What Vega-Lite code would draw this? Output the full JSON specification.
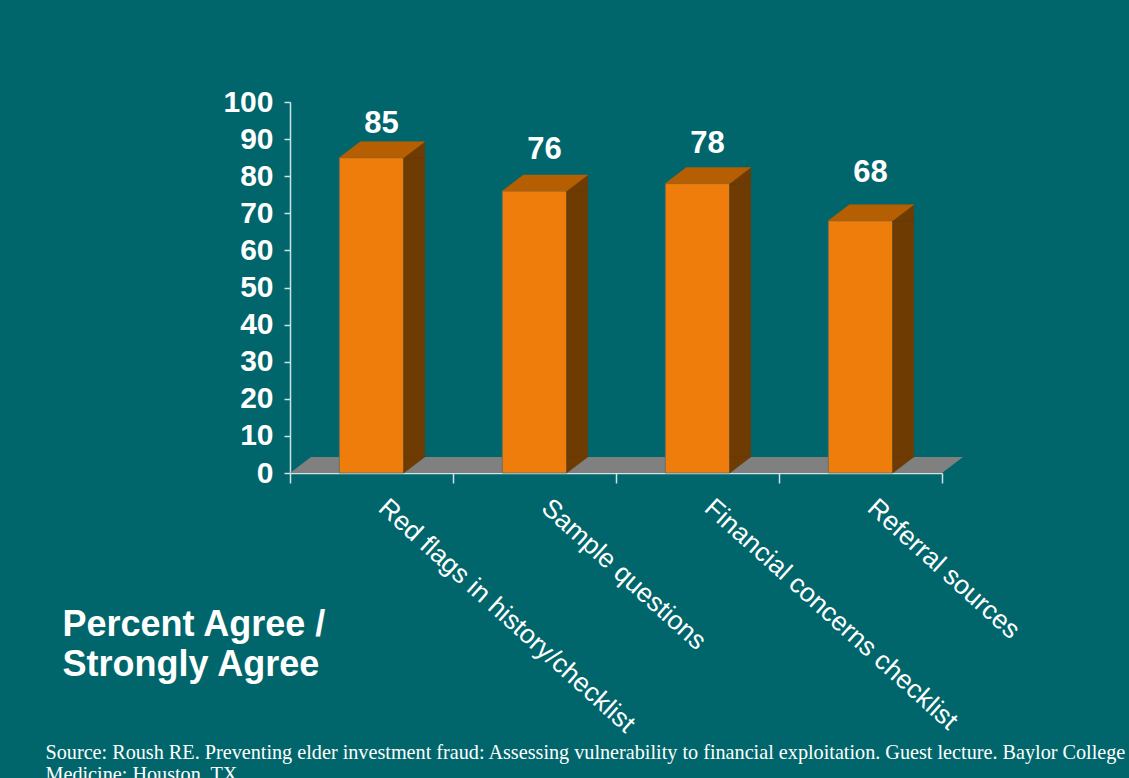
{
  "$schema": "https://vega.github.io/schema/vega-lite/v6.json",
  "width": 652,
  "height": 371,
  "autosize": {"type": "none"},
  "padding": {"left": 290, "top": 102, "right": 187, "bottom": 305},
  "background": "#00666B",
  "config": {"view": {"stroke": null}, "font": "Liberation Sans"},
  "data": {
    "values": [
      {"category": "Red flags in history/checklist", "value": 85},
      {"category": "Sample questions", "value": 76},
      {"category": "Financial concerns checklist", "value": 78},
      {"category": "Referral sources", "value": 68}
    ]
  },
  "encoding": {
    "x": {
      "field": "category",
      "type": "nominal",
      "sort": null,
      "scale": {"paddingInner": 0, "paddingOuter": 0},
      "axis": {
        "title": ["Source: Roush RE. Preventing elder investment fraud: Assessing vulnerability to financial exploitation. Guest lecture. Baylor College", "Medicine; Houston, TX."],
        "titleX": -245,
        "titleY": 285,
        "titleAlign": "left",
        "titleBaseline": "alphabetic",
        "titleFont": "Liberation Serif",
        "titleFontSize": 20.2,
        "titleFontWeight": "normal",
        "titleColor": "white",
        "titleLineHeight": 22,
        "labelAngle": 42,
        "labelAlign": "left",
        "labelBaseline": "top",
        "labelFontSize": 26.5,
        "labelColor": "white",
        "labelLimit": 1000,
        "labelOffset": 19,
        "labelPadding": 11,
        "labelOverlap": false,
        "domainColor": "#CFE3E3",
        "domainWidth": 1.5,
        "tickColor": "#CFE3E3",
        "tickWidth": 1.5,
        "tickSize": 10,
        "tickBand": "extent"
      }
    }
  },
  "layer": [
    {
      "encoding": {
        "y": {
          "field": "value",
          "type": "quantitative",
          "scale": {"domain": [0, 100]},
          "axis": {
            "values": [0, 10, 20, 30, 40, 50, 60, 70, 80, 90, 100],
            "tickCount": 11,
            "labelOverlap": false,
            "labelFontSize": 30,
            "labelFontWeight": "bold",
            "labelColor": "white",
            "labelPadding": 11,
            "tickSize": 6,
            "tickColor": "#CFE3E3",
            "tickWidth": 1.5,
            "domainColor": "#CFE3E3",
            "domainWidth": 1.5,
            "grid": false,
            "title": ["Percent Agree /", "Strongly Agree"],
            "titleX": -228,
            "titleY": 533,
            "titleAngle": 0,
            "titleAlign": "left",
            "titleBaseline": "alphabetic",
            "titleFontSize": 36,
            "titleFontWeight": "bold",
            "titleColor": "white",
            "titleLineHeight": 40
          }
        }
      },
      "layer": [
        {
          "transform": [{"filter": "datum.category == 'Red flags in history/checklist'"}],
          "mark": {"type": "point", "shape": "M-81.5,0L570.5,0L591.5,-16L-60.5,-16Z", "size": 4, "filled": true, "color": "#808080", "opacity": 1, "strokeWidth": 0},
          "encoding": {"y": {"datum": 0, "type": "quantitative"}}
        },
        {
          "mark": {"type": "bar", "width": {"band": 0.395}, "color": "#EE7D0C", "stroke": "#55706E", "strokeWidth": 0.8}
        },
        {
          "mark": {"type": "bar", "width": 21, "xOffset": 42.7, "y2Offset": -16, "color": "#6E3B02", "stroke": "#6E3B02", "strokeWidth": 0.5},
          "encoding": {"y2": {"datum": 0}}
        },
        {
          "mark": {"type": "point", "shape": "M32.2,0L53.2,-16L53.2,0Z", "size": 4, "filled": true, "color": "#6E3B02", "opacity": 1, "stroke": "#6E3B02", "strokeWidth": 0.5}
        },
        {
          "mark": {"type": "point", "shape": "M32.2,-16L32.2,0L53.2,-16Z", "size": 4, "filled": true, "color": "#6E3B02", "opacity": 1, "stroke": "#6E3B02", "strokeWidth": 0.5},
          "encoding": {"y": {"datum": 0, "type": "quantitative"}}
        },
        {
          "mark": {"type": "point", "shape": "M-32.2,0L32.2,0L53.2,-16L-11.2,-16Z", "size": 4, "filled": true, "color": "#B65E02", "opacity": 1, "stroke": "#B65E02", "strokeWidth": 0.5}
        }
      ]
    },
    {
      "mark": {"type": "text", "fontSize": 31, "fontWeight": "bold", "color": "white", "dx": 10, "align": "center", "baseline": "alphabetic"},
      "encoding": {
        "y": {"field": "value", "type": "quantitative", "scale": {"domain": [0, 100], "range": [276, -12]}, "axis": null},
        "text": {"field": "value", "type": "quantitative"}
      }
    }
  ],
  "resolve": {"scale": {"y": "independent"}}
}
